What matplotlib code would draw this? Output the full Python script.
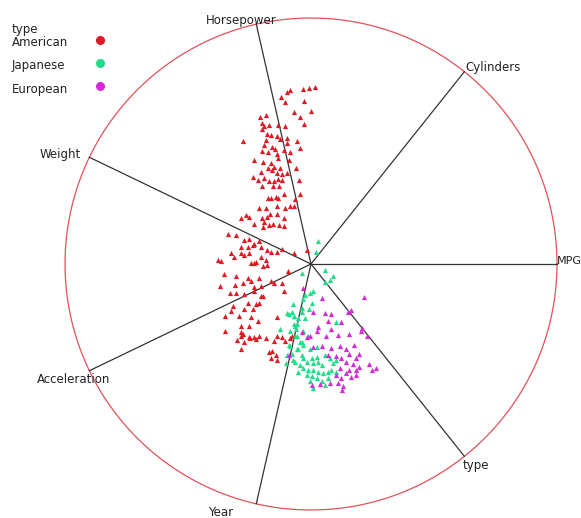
import numpy as np
import matplotlib
matplotlib.use('Agg')
import matplotlib.pyplot as plt

# RadViz anchors (auto-mpg)
anclas = ['MPG', 'Cylinders', 'Horsepower', 'Weight', 'Acceleration', 'Year', 'type']

# puntos proyectados (radio del circulo = 1)
american_x = [-0.087, -0.097, -0.031, -0.007, 0.015, -0.121, -0.105, -0.028, -0.001, -0.068,
              -0.044, -0.028, -0.183, -0.209, -0.201, -0.191, -0.169, -0.135, -0.105, -0.199,
              -0.180, -0.164, -0.184, -0.140, -0.127, -0.097, -0.277, -0.097, -0.055, -0.191,
              -0.157, -0.175, -0.148, -0.137, -0.111, -0.084, -0.044, -0.201, -0.231, -0.197,
              -0.164, -0.151, -0.135, -0.157, -0.175, -0.127, -0.089, -0.060, -0.204, -0.137,
              -0.117, -0.097, -0.237, -0.217, -0.191, -0.171, -0.151, -0.135, -0.117, -0.153,
              -0.131, -0.201, -0.049, -0.108, -0.164, -0.175, -0.144, -0.135, -0.064, -0.044,
              -0.211, -0.184, -0.140, -0.084, -0.104, -0.071, -0.284, -0.264, -0.251, -0.201,
              -0.177, -0.167, -0.137, -0.111, -0.231, -0.191, -0.171, -0.153, -0.197, -0.131,
              -0.108, -0.337, -0.304, -0.271, -0.251, -0.231, -0.211, -0.284, -0.257, -0.237,
              -0.204, -0.177, -0.164, -0.137, -0.117, -0.324, -0.284, -0.271, -0.251, -0.204,
              -0.184, -0.224, -0.377, -0.367, -0.311, -0.071, -0.017,
              -0.244, -0.231, -0.197, -0.177, -0.353, -0.304, -0.257, -0.244, -0.211, -0.164,
              -0.151, -0.095, -0.371, -0.308, -0.277, -0.231, -0.204, -0.117, -0.331, -0.304,
              -0.271, -0.231, -0.204, -0.197, -0.111, -0.257, -0.224, -0.211, -0.317, -0.324,
              -0.271, -0.237, -0.351, -0.291, -0.244, -0.217, -0.284, -0.251, -0.137, -0.284,
              -0.284, -0.277, -0.253, -0.247, -0.231, -0.224, -0.211, -0.184, -0.137, -0.117,
              -0.104, -0.084, -0.077, -0.348, -0.300, -0.271, -0.151, -0.284, -0.171, -0.157,
              -0.144, -0.137, -0.164]
american_y = [0.709, 0.699, 0.712, 0.715, 0.720, 0.680, 0.659, 0.661, 0.623, 0.619,
              0.596, 0.569, 0.605, 0.596, 0.573, 0.563, 0.565, 0.565, 0.560, 0.549,
              0.529, 0.523, 0.503, 0.520, 0.509, 0.512, 0.500, 0.493, 0.500, 0.483,
              0.476, 0.456, 0.467, 0.449, 0.463, 0.456, 0.472, 0.459, 0.423, 0.413,
              0.409, 0.396, 0.429, 0.383, 0.389, 0.392, 0.423, 0.392, 0.376, 0.369,
              0.365, 0.369, 0.352, 0.343, 0.349, 0.339, 0.336, 0.347, 0.343, 0.316,
              0.316, 0.316, 0.343, 0.283, 0.269, 0.269, 0.272, 0.269, 0.263, 0.283,
              0.229, 0.229, 0.236, 0.236, 0.229, 0.236, 0.189, 0.200, 0.192, 0.189,
              0.192, 0.203, 0.203, 0.189, 0.163, 0.169, 0.160, 0.163, 0.149, 0.160,
              0.156, 0.123, 0.116, 0.096, 0.103, 0.083, 0.093, 0.069, 0.069, 0.076,
              0.069, 0.056, 0.049, 0.049, 0.059, 0.043, 0.045, 0.036, 0.043, 0.029,
              0.016, 0.009, 0.016, 0.013, 0.029, 0.043, 0.056,
              0.003, 0.003, -0.008, -0.004, -0.040, -0.048, -0.057, -0.071, -0.057, -0.071,
              -0.077, -0.027, -0.088, -0.084, -0.077, -0.093, -0.091, -0.077, -0.117, -0.117,
              -0.120, -0.111, -0.131, -0.131, -0.111, -0.157, -0.164, -0.157, -0.171, -0.191,
              -0.181, -0.184, -0.211, -0.211, -0.217, -0.231, -0.251, -0.251, -0.217, -0.277,
              -0.293, -0.284, -0.297, -0.301, -0.297, -0.304, -0.291, -0.301, -0.291, -0.297,
              -0.311, -0.301, -0.293, -0.271, -0.307, -0.317, -0.311, -0.344, -0.357, -0.355,
              -0.371, -0.391, -0.384]

japanese_x = [0.076, 0.056, -0.037, 0.009, -0.004, -0.024, 0.003, -0.031, -0.073, -0.097,
              -0.077, -0.037, -0.037, -0.007, -0.051, -0.024, 0.103, -0.071, -0.060, -0.031,
              -0.011, -0.057, -0.091, -0.084, -0.044, -0.031, -0.051, -0.004, 0.023, -0.097,
              -0.073, -0.037, -0.031, -0.017, 0.003, 0.009, 0.023, 0.029, 0.043, -0.044,
              -0.031, -0.011, 0.009, 0.029, 0.049, 0.069, -0.017, 0.003, 0.023, 0.043,
              -0.004, 0.056, 0.076, 0.089, 0.103, 0.083, 0.103, 0.069, 0.056, 0.009,
              0.028, 0.020, 0.056, 0.088, -0.091, -0.071, -0.057, -0.124, -0.084, -0.064,
              -0.037, -0.057, -0.077, -0.064, -0.051, -0.100, -0.064]
japanese_y = [-0.067, -0.075, -0.037, -0.111, -0.117, -0.124, -0.157, -0.144, -0.164, -0.200,
              -0.197, -0.177, -0.197, -0.184, -0.221, -0.221, -0.237, -0.244, -0.264, -0.271,
              -0.291, -0.291, -0.331, -0.333, -0.317, -0.328, -0.344, -0.344, -0.337, -0.371,
              -0.391, -0.371, -0.384, -0.397, -0.384, -0.404, -0.377, -0.397, -0.411, -0.411,
              -0.424, -0.431, -0.431, -0.437, -0.444, -0.437, -0.451, -0.457, -0.464, -0.477,
              -0.477, -0.371, -0.384, -0.404, -0.391, -0.431, -0.437, -0.464, -0.491, -0.504,
              0.092, 0.048, -0.024, -0.048, -0.204, -0.211, -0.244, -0.264, -0.271, -0.291,
              -0.317, -0.344, -0.364, -0.397, -0.437, -0.404, -0.251]

european_x = [-0.031, 0.043, 0.216, 0.009, 0.056, 0.083, 0.149, 0.069, 0.123, 0.029,
              0.083, -0.004, 0.023, 0.063, 0.109, 0.156, 0.203, 0.009, 0.043, 0.083,
              0.116, 0.143, 0.176, 0.229, 0.069, 0.103, 0.123, 0.156, 0.183, 0.196,
              0.143, 0.169, 0.196, 0.236, 0.116, 0.156, 0.183, 0.143, 0.103, 0.123,
              0.163, 0.183, 0.249, 0.003, 0.036, 0.076, 0.109, 0.129, -0.037, -0.017,
              -0.091, 0.263, 0.128, 0.164, 0.208]
european_y = [-0.097, -0.137, -0.133, -0.197, -0.201, -0.204, -0.197, -0.231, -0.237, -0.257,
              -0.264, -0.291, -0.271, -0.293, -0.288, -0.284, -0.271, -0.337, -0.333, -0.341,
              -0.333, -0.344, -0.328, -0.291, -0.371, -0.373, -0.384, -0.364, -0.384, -0.364,
              -0.397, -0.408, -0.417, -0.408, -0.424, -0.431, -0.431, -0.444, -0.451, -0.464,
              -0.461, -0.451, -0.431, -0.491, -0.488, -0.484, -0.484, -0.497, -0.277, -0.297,
              -0.371, -0.424, -0.512, -0.188, -0.260]

series = [('American', american_x, american_y, '#e01a22'),
          ('Japanese', japanese_x, japanese_y, '#22dc88'),
          ('European', european_x, european_y, '#d42ad8')]

# desplazamiento de cada etiqueta (pixeles) y alineacion
etiq_off = {'MPG': (0, 3, 'left'), 'Cylinders': (1, 4, 'left'),
            'Horsepower': (-15, 4, 'center'), 'Weight': (-9, 3, 'right'),
            'Acceleration': (-16, -9, 'center'), 'Year': (-36, -9, 'center'),
            'type': (12, -9, 'center')}

W, H = 581, 518
cx, cy, R = 311, 264, 246

fig = plt.figure(figsize=(W / 100, H / 100), dpi=100)
ax = fig.add_axes([0, 0, 1, 1])
ax.set_xlim(-cx / R, (W - cx) / R)
ax.set_ylim((cy - H) / R, cy / R)
ax.axis('off')

t = np.linspace(0, 2 * np.pi, 400)
ax.plot(np.cos(t), np.sin(t), color='#e4505c', lw=0.9, zorder=1)

n = len(anclas)
for i, nom in enumerate(anclas):
    ang = 2 * np.pi * i / n
    ax_, ay_ = np.cos(ang), np.sin(ang)
    ax.plot([0, ax_], [0, ay_], color='#333333', lw=0.9, zorder=2)
    dx, dy, ha = etiq_off[nom]
    fs = 8 if nom == 'MPG' else 8.5
    ax.annotate(nom, (ax_, ay_), xytext=(dx, dy), textcoords='offset pixels',
                ha=ha, va='center', fontsize=fs, color='#222222', zorder=4)

for nom, xs, ys, col in series:
    ax.scatter(xs, ys, s=14, marker='^', color=col, linewidths=0, zorder=3)

# leyenda manual
ax.text(12 / W, 1 - 30 / H, 'type', transform=ax.transAxes, fontsize=8.5,
        color='#222222', va='center', ha='left')
for k, (nom, xs, ys, col) in enumerate(series):
    yy = 43 + 23 * k
    ax.text(12 / W, 1 - yy / H, nom, transform=ax.transAxes, fontsize=8.5,
            color='#222222', va='center', ha='left')
    ax.plot([100 / W], [1 - (yy - 3) / H], 'o', color=col, ms=5.5,
            transform=ax.transAxes, clip_on=False)

fig.savefig('out.png', dpi=100)
